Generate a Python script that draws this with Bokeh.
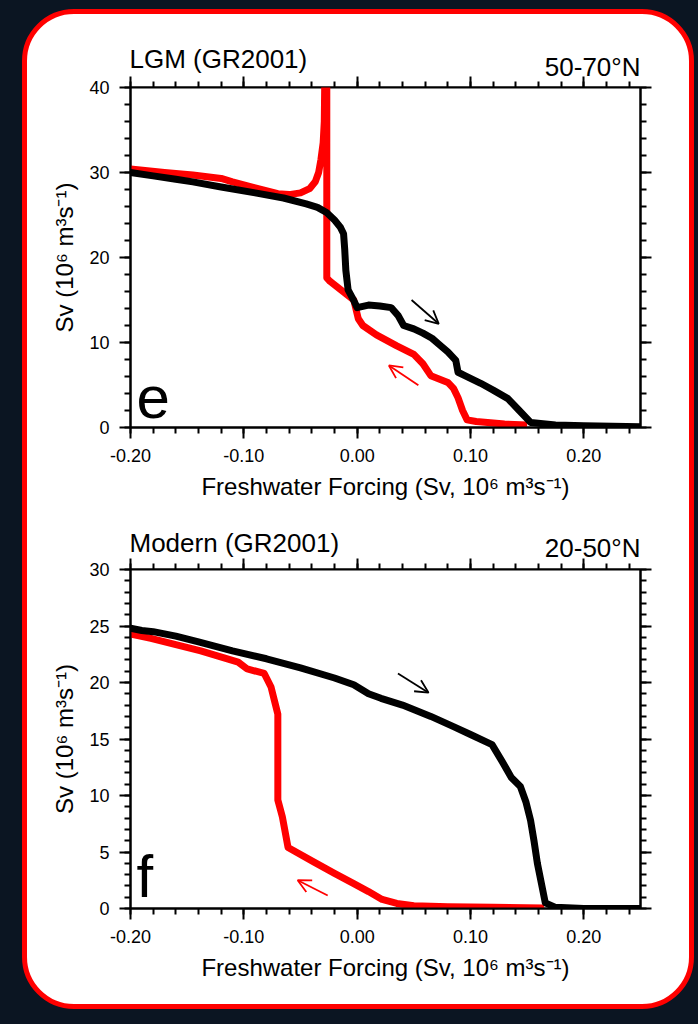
from bokeh.plotting import figure
from bokeh.models import (LinearAxis, FixedTicker, Range1d, Arrow, OpenHead,
                          NumeralTickFormatter, CustomLabelingPolicy)
from bokeh.layouts import column
from bokeh.embed import file_html
from bokeh.resources import INLINE
from bokeh.core.properties import value

# ---------------- data ----------------
x_major = [-0.20, -0.10, 0.00, 0.10, 0.20]
x_minor = [-0.20, -0.18, -0.16, -0.14, -0.12, -0.10, -0.08, -0.06, -0.04, -0.02, 0.00,
           0.02, 0.04, 0.06, 0.08, 0.10, 0.12, 0.14, 0.16, 0.18, 0.20, 0.22, 0.24]
x_limits = [-0.20, 0.25]

# Panel e: LGM (GR2001), 50-70N
lgm_y_major = [0, 10, 20, 30, 40]
lgm_y_minor = [0, 2, 4, 6, 8, 10, 12, 14, 16, 18, 20, 22, 24, 26, 28, 30, 32, 34, 36, 38, 40]
lgm_y_limits = [0, 40]
# forward (increasing forcing) branch, black
lgm_fwd_x = [-0.200, -0.180, -0.160, -0.145, -0.120, -0.090, -0.065, -0.045, -0.035, -0.027,
             -0.020, -0.015, -0.012, -0.011, -0.010, -0.008, -0.004, 0.000, 0.010, 0.020,
             0.030, 0.036, 0.041, 0.050, 0.058, 0.066, 0.073, 0.080, 0.087, 0.089,
             0.095, 0.109, 0.120, 0.133, 0.143, 0.153, 0.175, 0.200, 0.250]
lgm_fwd_y = [30.0, 29.6, 29.2, 28.9, 28.3, 27.6, 27.0, 26.3, 25.9, 25.3,
             24.4, 23.6, 22.8, 21.0, 18.5, 16.2, 15.2, 14.1, 14.4, 14.3,
             14.1, 13.2, 12.0, 11.6, 11.1, 10.5, 9.7, 8.9, 7.9, 6.5,
             6.1, 5.2, 4.4, 3.4, 2.0, 0.6, 0.3, 0.2, 0.1]
# backward (decreasing forcing) branch, red
lgm_bwd_x = [0.150, 0.130, 0.115, 0.105, 0.097, 0.093, 0.089, 0.085, 0.080, 0.065,
             0.058, 0.050, 0.035, 0.017, 0.005, 0.001, -0.003, -0.024, -0.0268, -0.0268,
             -0.0285, -0.029, -0.030, -0.032, -0.034, -0.037, -0.042, -0.050, -0.060, -0.070,
             -0.090, -0.110, -0.120, -0.145, -0.170, -0.200]
lgm_bwd_y = [0.3, 0.4, 0.6, 0.7, 0.9, 2.0, 3.5, 4.6, 5.3, 6.1,
             7.5, 8.6, 9.6, 10.9, 12.0, 12.8, 15.0, 17.2, 17.6, 42.0,
             42.0, 36.0, 33.5, 31.5, 30.0, 28.9, 28.1, 27.6, 27.4, 27.5,
             28.2, 28.9, 29.3, 29.7, 30.0, 30.4]
lgm_arrow_fwd = [0.048, 15.0, 0.072, 12.2]   # x_start, y_start, x_end, y_end
lgm_arrow_bwd = [0.054, 4.96, 0.028, 7.3]

# Panel f: Modern (GR2001), 20-50N
mod_y_major = [0, 5, 10, 15, 20, 25, 30]
mod_y_minor = list(range(0, 31))
mod_y_limits = [0, 30]
mod_fwd_x = [-0.200, -0.190, -0.180, -0.160, -0.140, -0.110, -0.080, -0.050, -0.020, -0.003,
             0.010, 0.021, 0.040, 0.065, 0.085, 0.100, 0.119, 0.128, 0.136, 0.144,
             0.149, 0.153, 0.156, 0.159, 0.163, 0.166, 0.175, 0.200, 0.250]
mod_fwd_y = [24.8, 24.6, 24.5, 24.1, 23.6, 22.8, 22.1, 21.3, 20.4, 19.8,
             19.0, 18.6, 18.0, 17.0, 16.1, 15.4, 14.5, 13.0, 11.6, 10.8,
             9.4, 7.8, 6.0, 4.0, 2.0, 0.5, 0.1, 0.0, 0.0]
mod_bwd_x = [0.165, 0.120, 0.080, 0.050, 0.035, 0.022, 0.010, -0.003, -0.020, -0.038,
             -0.061, -0.066, -0.070, -0.070, -0.073, -0.076, -0.082, -0.097, -0.105, -0.138,
             -0.182, -0.200]
mod_bwd_y = [0.05, 0.1, 0.15, 0.25, 0.45, 0.8, 1.5, 2.2, 3.1, 4.1,
             5.4, 8.1, 9.6, 17.2, 18.4, 19.6, 20.8, 21.2, 21.8, 22.8,
             23.9, 24.3]
mod_arrow_fwd = [0.036, 20.8, 0.063, 19.1]
mod_arrow_bwd = [-0.026, 1.15, -0.0525, 2.5]

titles_left = ["LGM (GR2001)", "Modern (GR2001)"]
titles_right = ["50-70°N", "20-50°N"]
panel_letters = ["e", "f"]
x_label = "Freshwater Forcing (Sv, 10⁶ m³s⁻¹)"
y_label = "Sv (10⁶ m³s⁻¹)"

FONT = "Liberation Sans"
RED = "#ff0000"
BLACK = "#000000"
LEFT_BORDER = 103
RIGHT_BORDER = 49
FIG_W = 662
OVERLAP = 12   # a panel's canvas slides this far under its title strip

HIDE_LABELS = """
for (let i = 0; i < indices.size; i++) { indices.unset(i) }
return indices
"""


def style_axis(ax, show_labels, hidden_standoff=0, inward=False):
    ax.axis_line_width = 2
    ax.axis_line_color = BLACK
    if inward:
        ax.major_tick_in, ax.major_tick_out = 11, 0
        ax.minor_tick_in, ax.minor_tick_out = 6, 0
    else:
        ax.major_tick_in, ax.major_tick_out = 0, 11
        ax.minor_tick_in, ax.minor_tick_out = 0, 6
    ax.major_tick_line_width = 2
    ax.minor_tick_line_width = 2
    ax.major_tick_line_color = BLACK
    ax.minor_tick_line_color = BLACK
    ax.major_label_text_font = FONT
    ax.major_label_text_color = BLACK
    ax.major_label_text_font_size = "18px"
    ax.axis_label_text_font = FONT
    ax.axis_label_text_font_style = "normal"
    ax.axis_label_text_color = BLACK
    ax.axis_label_text_font_size = "24px"
    if show_labels:
        ax.major_label_standoff = 10
    else:
        ax.major_label_standoff = hidden_standoff
        ax.major_label_policy = CustomLabelingPolicy(code=HIDE_LABELS)


def make_title_strip(height, left_text, right_text, left_y, right_y):
    """Strip above a panel: holds the two titles and the panel's top tick marks."""
    s = figure(width=FIG_W, height=height, output_backend="svg", toolbar_location=None,
               x_range=Range1d(*x_limits), y_range=Range1d(0, height),
               x_axis_location=None, y_axis_location=None,
               min_border_left=LEFT_BORDER, min_border_right=RIGHT_BORDER,
               min_border_top=0, min_border_bottom=0)
    s.grid.visible = False
    s.outline_line_color = None
    s.background_fill_alpha = 0
    s.border_fill_alpha = 0
    ax = LinearAxis(ticker=FixedTicker(ticks=x_major, minor_ticks=x_minor),
                    formatter=NumeralTickFormatter(format="0.00"))
    style_axis(ax, False, hidden_standoff=-40, inward=True)
    s.add_layout(ax, "below")
    s.text(x=[x_limits[0]], y=[left_y], text=[left_text], text_font=value(FONT),
           text_font_size="26px", text_color=BLACK, text_align="left",
           text_baseline="alphabetic", x_offset=-1)
    s.text(x=[x_limits[1]], y=[right_y], text=[right_text], text_font=value(FONT),
           text_font_size="26px", text_color=BLACK, text_align="right",
           text_baseline="alphabetic")
    return s


def make_panel(height, y_limits, y_major, y_minor, mb_bottom,
               fwd_x, fwd_y, bwd_x, bwd_y, arrow_fwd, arrow_bwd, letter, letter_y):
    p = figure(width=FIG_W, height=height + OVERLAP, output_backend="svg", toolbar_location=None,
               x_range=Range1d(*x_limits), y_range=Range1d(*y_limits),
               x_axis_location=None, y_axis_location=None,
               min_border_left=LEFT_BORDER, min_border_right=RIGHT_BORDER,
               min_border_top=OVERLAP, min_border_bottom=mb_bottom,
               margin=(-OVERLAP, 0, 0, 0))
    p.grid.visible = False
    p.background_fill_color = "white"
    p.border_fill_alpha = 0
    p.outline_line_color = BLACK
    p.outline_line_width = 2

    ax = LinearAxis(ticker=FixedTicker(ticks=x_major, minor_ticks=x_minor),
                    formatter=NumeralTickFormatter(format="0.00"))
    style_axis(ax, True)
    ax.axis_label = x_label
    ax.axis_label_standoff = 8
    p.add_layout(ax, "below")

    ax = LinearAxis(ticker=FixedTicker(ticks=y_major, minor_ticks=y_minor))
    style_axis(ax, True)
    ax.axis_label = y_label
    ax.axis_label_standoff = 8
    p.add_layout(ax, "left")

    ax = LinearAxis(ticker=FixedTicker(ticks=y_major, minor_ticks=y_minor))
    style_axis(ax, False)
    p.add_layout(ax, "right")

    p.line(bwd_x, bwd_y, line_color=RED, line_width=7, line_join="round")
    p.line(fwd_x, fwd_y, line_color=BLACK, line_width=7, line_join="round")

    p.add_layout(Arrow(x_start=arrow_fwd[0], y_start=arrow_fwd[1], x_end=arrow_fwd[2], y_end=arrow_fwd[3],
                       line_color=BLACK, line_width=1.8,
                       end=OpenHead(size=13, line_color=BLACK, line_width=1.8)))
    p.add_layout(Arrow(x_start=arrow_bwd[0], y_start=arrow_bwd[1], x_end=arrow_bwd[2], y_end=arrow_bwd[3],
                       line_color=RED, line_width=1.8,
                       end=OpenHead(size=13, line_color=RED, line_width=1.8)))

    p.text(x=[x_limits[0]], y=[letter_y], text=[letter], text_font=value(FONT),
           text_font_size="60px", text_color=BLACK, text_align="left", text_baseline="alphabetic",
           x_offset=6)
    return p


strip1 = make_title_strip(73, titles_left[0], titles_right[0], 29, 21)
p1 = make_panel(439, lgm_y_limits, lgm_y_major, lgm_y_minor, 99,
                lgm_fwd_x, lgm_fwd_y, lgm_bwd_x, lgm_bwd_y, lgm_arrow_fwd, lgm_arrow_bwd,
                panel_letters[0], 3.5)
strip2 = make_title_strip(43, titles_left[1], titles_right[1], 27, 22)
p2 = make_panel(435, mod_y_limits, mod_y_major, mod_y_minor, 96,
                mod_fwd_x, mod_fwd_y, mod_bwd_x, mod_bwd_y, mod_arrow_fwd, mod_arrow_bwd,
                panel_letters[1], 2.8)

inner = column(strip1, p1, strip2, p2, margin=(9, 0, 0, 22), spacing=0,
               styles={"background-color": "white", "border": "5px solid #ff0000",
                       "border-radius": "52px"})
page = column(inner, width=698, height=1024, styles={"background-color": "#0b1522"})

open("out.html", "w").write(file_html(page, INLINE))
